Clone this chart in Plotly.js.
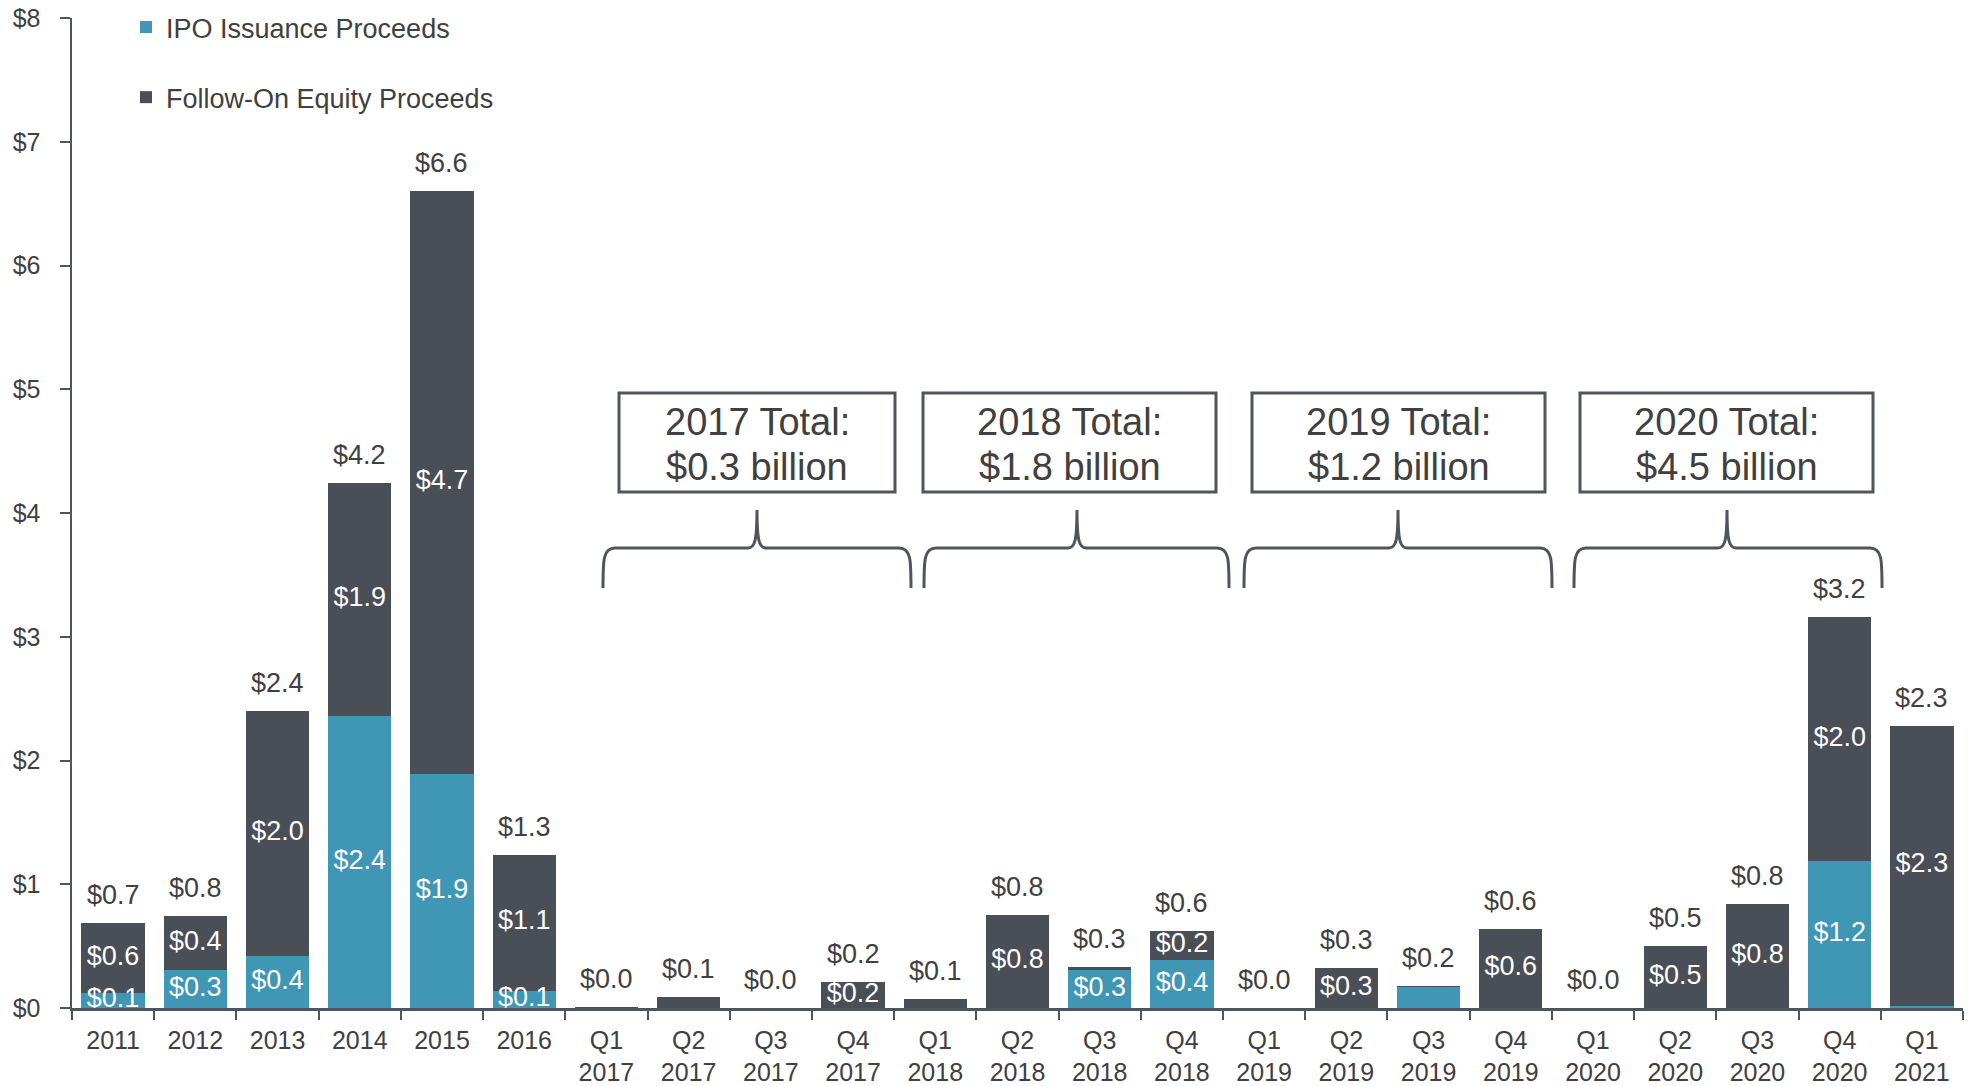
<!DOCTYPE html>
<html>
<head>
<meta charset="utf-8">
<script src="https://cdn.plot.ly/plotly-3.0.1.min.js"></script>
<style>html,body{margin:0;padding:0;background:#fff;}#chart{width:1971px;height:1086px;}</style>
</head>
<body>
<div id="chart"></div>
<script>
// ---- Data ----
const categories = ["2011","2012","2013","2014","2015","2016",
  "Q1<br>2017","Q2<br>2017","Q3<br>2017","Q4<br>2017",
  "Q1<br>2018","Q2<br>2018","Q3<br>2018","Q4<br>2018",
  "Q1<br>2019","Q2<br>2019","Q3<br>2019","Q4<br>2019",
  "Q1<br>2020","Q2<br>2020","Q3<br>2020","Q4<br>2020",
  "Q1<br>2021"];
const ipoProceeds = [0.12,0.31,0.42,2.36,1.89,0.14,0,0,0,0,0,0,0.31,0.39,0,0,0.17,0,0,0,0,1.19,0.02];
const followOnProceeds = [0.57,0.43,1.98,1.88,4.71,1.10,0.005,0.09,0.003,0.21,0.07,0.75,0.02,0.23,0.003,0.32,0.01,0.64,0.003,0.50,0.84,1.97,2.26];
const ipoLabels = ["$0.1","$0.3","$0.4","$2.4","$1.9","$0.1","","","","","","","$0.3","$0.4","","","","","","","","$1.2",""];
const followOnLabels = ["$0.6","$0.4","$2.0","$1.9","$4.7","$1.1","","","","$0.2","","$0.8","","$0.2","","$0.3","","$0.6","","$0.5","$0.8","$2.0","$2.3"];
const totalLabels = ["$0.7","$0.8","$2.4","$4.2","$6.6","$1.3","$0.0","$0.1","$0.0","$0.2","$0.1","$0.8","$0.3","$0.6","$0.0","$0.3","$0.2","$0.6","$0.0","$0.5","$0.8","$3.2","$2.3"];
const yTickVals = [0,1,2,3,4,5,6,7,8];
const yTickText = ["$0","$1","$2","$3","$4","$5","$6","$7","$8"];
const boxLine1 = ["2017 Total:","2018 Total:","2019 Total:","2020 Total:"];
const boxLine2 = ["$0.3 billion","$1.8 billion","$1.2 billion","$4.5 billion"];

// ---- Styling / layout geometry ----
const BLUE = "#4096B5", DARK = "#4A4E56", TXT = "#404040", LINE = "#50555B";
const FONT = "Liberation Sans, Arial, Helvetica, sans-serif";
const W = 1971, H = 1086, ML = 72, MR = 8, MT = 18, MB = 78;
const PW = W - ML - MR, PH = H - MT - MB;
const px = x => (x - ML) / PW;
const py = y => (H - MB - y) / PH;

const boxGeom = [[619,895],[923,1216],[1252,1545],[1580,1873]];
const braceGeom = [[603,757,911],[924,1077,1229],[1244,1398,1552],[1574,1727,1882]];
const boxTop = 393, boxBot = 492, line1Y = 422, line2Y = 467;
const braceSpike = 510, braceLine = 548, braceEnd = 588;

const totals = ipoProceeds.map((v,i) => v + followOnProceeds[i]);
const ipoMid = ipoProceeds.map(v => v/2);
const foMid = followOnProceeds.map((v,i) => ipoProceeds[i] + v/2);

const traces = [
  {type:"bar", name:"IPO Issuance Proceeds", x:categories, y:ipoProceeds,
   marker:{color:BLUE}, legendgroup:"a", hoverinfo:"skip"},
  {type:"bar", name:"Follow-On Equity Proceeds", x:categories, y:followOnProceeds,
   marker:{color:DARK}, legendgroup:"b", hoverinfo:"skip"},
  {type:"scatter", mode:"text", x:categories, y:ipoMid, text:ipoLabels,
   textposition:"middle center", textfont:{color:"#ffffff", size:27, family:FONT},
   showlegend:false, hoverinfo:"skip", cliponaxis:false},
  {type:"scatter", mode:"text", x:categories, y:foMid, text:followOnLabels,
   textposition:"middle center", textfont:{color:"#ffffff", size:27, family:FONT},
   showlegend:false, hoverinfo:"skip", cliponaxis:false}
];

// category axis: annotation x given as the category index
const annotations = categories.map((c,i) => ({
  x:i, y:totals[i], xref:"x", yref:"y", text:totalLabels[i], showarrow:false,
  yanchor:"bottom", yshift:11, font:{size:27, color:TXT, family:FONT}
}));

const shapes = [];
boxLine1.forEach((t,i) => {
  const [x0,x1] = boxGeom[i];
  shapes.push({type:"rect", xref:"paper", yref:"paper", x0:px(x0), x1:px(x1), y0:py(boxBot), y1:py(boxTop),
    line:{color:LINE, width:3}, fillcolor:"rgba(0,0,0,0)"});
  [[t,line1Y],[boxLine2[i],line2Y]].forEach(([txt,yy]) => {
    annotations.push({xref:"paper", yref:"paper", x:px((x0+x1)/2), y:py(yy),
      text:txt, showarrow:false, xanchor:"center", yanchor:"middle",
      font:{size:38, color:TXT, family:FONT}});
  });
});
braceGeom.forEach(([a,c,b]) => {
  const P = (x,y) => px(x).toFixed(5) + "," + py(y).toFixed(5);
  const d = "M" + P(a,braceEnd) +
    " C" + P(a,braceLine+12) + " " + P(a,braceLine) + " " + P(a+12,braceLine) +
    " L" + P(c-9,braceLine) +
    " C" + P(c-2,braceLine) + " " + P(c,braceLine-8) + " " + P(c,braceSpike) +
    " C" + P(c,braceLine-8) + " " + P(c+2,braceLine) + " " + P(c+9,braceLine) +
    " L" + P(b-12,braceLine) +
    " C" + P(b,braceLine) + " " + P(b,braceLine+12) + " " + P(b,braceEnd);
  shapes.push({type:"path", xref:"paper", yref:"paper", path:d, line:{color:LINE, width:3}});
});

const layout = {
  width:W, height:H,
  margin:{l:ML, r:MR, t:MT, b:MB, pad:0, autoexpand:false},
  paper_bgcolor:"#ffffff", plot_bgcolor:"#ffffff",
  font:{family:FONT, color:TXT, size:25},
  barmode:"stack", bargap:0.23,
  showlegend:true,
  legend:{xref:"paper", yref:"container", x:px(126), y:1 - 3/H, xanchor:"left", yanchor:"top",
    traceorder:"grouped", tracegroupgap:32, font:{size:27, color:TXT, family:FONT},
    bgcolor:"rgba(0,0,0,0)"},
  xaxis:{type:"category", range:[-0.5, categories.length - 0.5], showline:true, linecolor:LINE, linewidth:2.5,
    ticks:"outside", tickson:"boundaries", ticklen:9, tickwidth:2, tickcolor:LINE, tickangle:0,
    showgrid:false, zeroline:false, ticklabelstandoff:8, tickfont:{size:25, color:TXT, family:FONT},
    fixedrange:true, automargin:false},
  yaxis:{range:[0,8], tickvals:yTickVals, ticktext:yTickText, showline:true,
    linecolor:LINE, linewidth:2.5, ticks:"outside", ticklen:10, tickwidth:2, tickcolor:LINE,
    showgrid:false, zeroline:false, ticklabelstandoff:14,
    tickfont:{size:25, color:TXT, family:FONT}, fixedrange:true, automargin:false},
  annotations:annotations,
  shapes:shapes
};

Plotly.newPlot("chart", traces, layout, {displayModeBar:false, staticPlot:true});
</script>
</body>
</html>
